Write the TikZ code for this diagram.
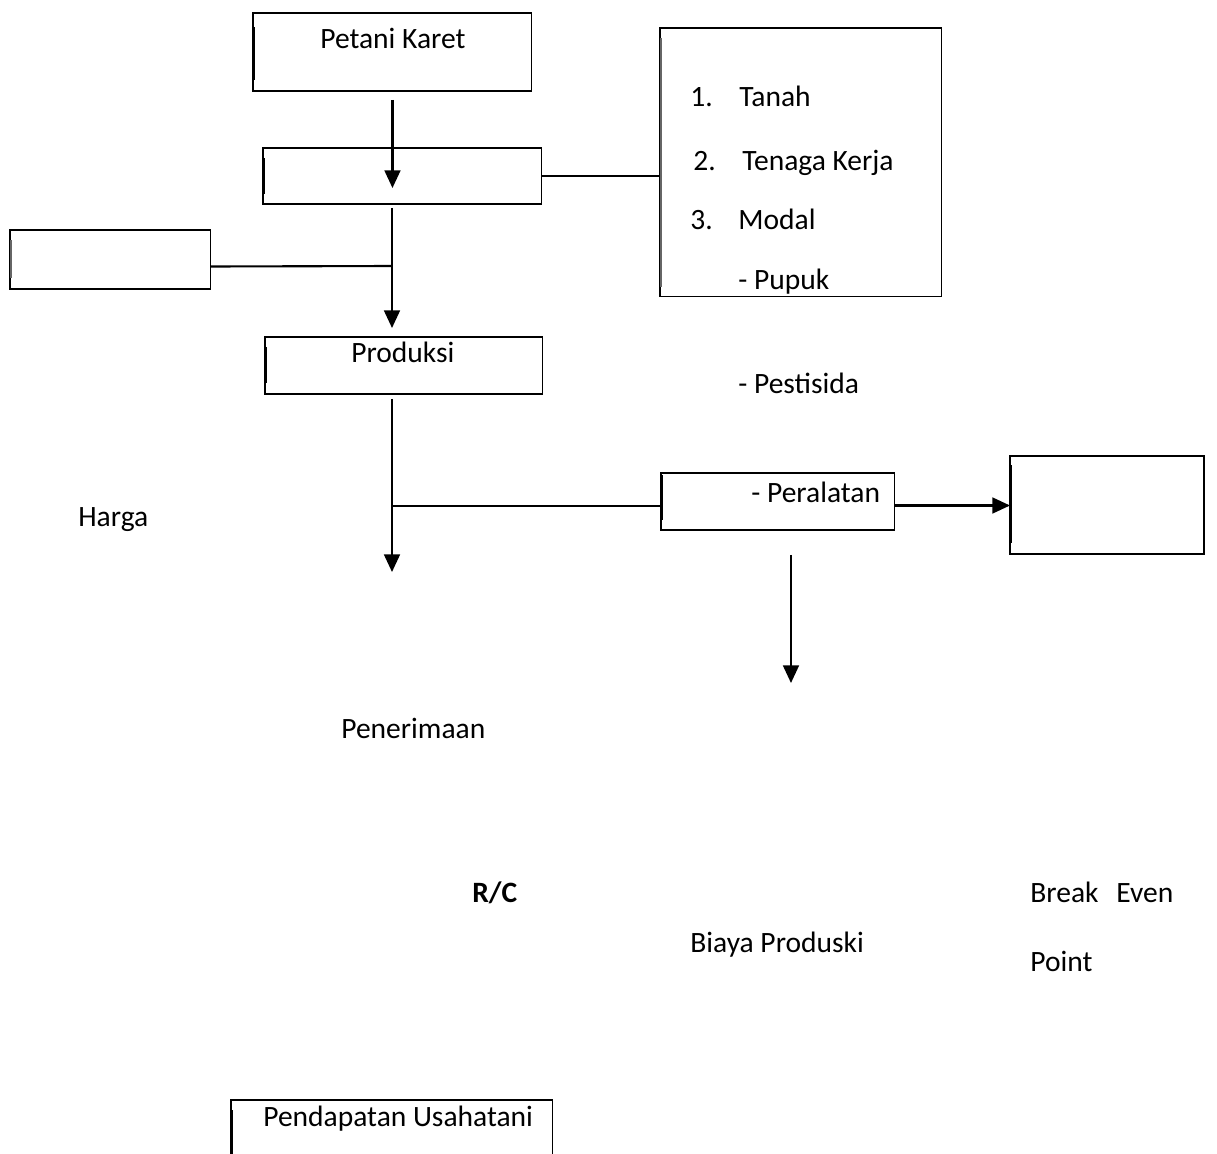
\documentclass[tikz,border=0pt]{standalone}
\usepackage{fontspec}
\setmainfont{Carlito}
\usetikzlibrary{arrows.meta,calc}
\begin{document}
\begin{tikzpicture}[x=0.02cm,y=-0.02cm,
  box/.style={draw=black,line width=0.6pt,rectangle,anchor=north west,inner sep=0pt,outer sep=0pt},
  txt/.style={anchor=base west,inner sep=0pt,font=\fontsize{16.8pt}{20pt}\selectfont},
  conn/.style={line width=1.2pt,black},
  arr/.style={conn,-{Triangle[length=10pt,width=9pt]}},
  bar/.style={line width=1.6pt,black},
  graybar/.style={line width=1.6pt,black!60}]
\useasboundingbox (0,0) rectangle (1217,1153);
\clip (0,0) rectangle (1217,1153);
\fill[white] (0,0) rectangle (1217,1153);

% boxes
\node[box,minimum width=5.58cm,minimum height=1.56cm] (pk) at (253,13) {};
\node[box,minimum width=5.58cm,minimum height=1.12cm] (b2) at (263,148) {};
\node[box,minimum width=5.64cm,minimum height=5.38cm] (rb) at (660,28) {};
\node[box,minimum width=4.02cm,minimum height=1.18cm] (lb) at (10,230) {};
\node[box,minimum width=5.56cm,minimum height=1.14cm] (prod) at (265,337) {};
\node[box,minimum width=4.68cm,minimum height=1.14cm] (pe) at (661,473) {};
\node[box,minimum width=3.88cm,minimum height=1.96cm] (rr) at (1010,456) {};
\node[box,minimum width=6.44cm,minimum height=1.6cm] (pend) at (231,1100) {};

% thick left edges
\draw[bar] ($(pk.north west)+(1,14)$) -- ($(pk.north west)+(1,67)$);
\draw[bar] ($(b2.north west)+(1,10)$) -- ($(b2.north west)+(1,46)$);
\draw[bar] ($(prod.north west)+(1,10)$) -- ($(prod.north west)+(1,46)$);
\draw[graybar] ($(lb.north west)+(1,10)$) -- ($(lb.north west)+(1,48)$);
\draw[graybar] ($(rb.north west)+(1,10)$) -- ($(rb.north west)+(1,259)$);
\draw[bar] ($(pe.north west)+(1,2)$) -- ($(pe.north west)+(1,47)$);
\draw[bar] ($(rr.north west)+(1,9)$) -- ($(rr.north west)+(1,87)$);
\draw[bar] ($(pend.north west)+(1,10)$) -- ($(pend.north west)+(1,60)$);

% texts
\node[txt] (tpk) at (320,48) {Petani Karet};
\node[txt] (n1) at (690,106) {1.};
\node[txt] (t1) at (739,106) {Tanah};
\node[txt] (n2) at (693,170) {2.};
\node[txt] (t2) at (742,170) {Tenaga Kerja};
\node[txt] (n3) at (690,229) {3.};
\node[txt] (t3) at (738,229) {Modal};
\node[txt] (t4) at (738,289) {- Pupuk};
\node[txt] (t5) at (738,393) {- Pestisida};
\node[txt] (t6) at (751,502) {- Peralatan};
\node[txt] (tprod) at (351,362) {Produksi};
\node[txt] (harga) at (78,526) {Harga};
\node[txt] (pener) at (341,738) {Penerimaan};
\node[txt] (rc) at (472,902) {\bfseries R/C};
\node[txt] (biaya) at (690,952) {Biaya Produski};
\node[txt] (bep1) at (1030,902) {Break\hspace{0.6em}Even};
\node[txt] (bep2) at (1030,971) {Point};
\node[txt] (tpend) at (263,1126) {Pendapatan Usahatani};

% connectors
\coordinate (j1) at (392,266);
\coordinate (j2) at (392,506);
\draw[arr] ($(pk.south)+(0,9)$) -- ($(pk.south)+(0,97)$);
\draw[conn] (b2.east) -- (b2.east -| rb.west);
\draw[arr] ($(b2.south west)+(129,4)$) -- ($(prod.north west)+(127,-9)$);
\draw[conn] ($(lb.east)+(0,7)$) -- (j1);
\draw[arr] ($(prod.south west)+(127,5)$) -- ($(prod.south west)+(127,178)$);
\draw[conn] (j2) -- (j2 -| pe.west);
\draw[arr] ($(pe.east)+(0,4)$) -- ($(pe.east -| rr.west)+(0,4)$);
\draw[arr] ($(pe.south)+(13,25)$) -- ($(pe.south)+(13,153)$);
\end{tikzpicture}
\end{document}
